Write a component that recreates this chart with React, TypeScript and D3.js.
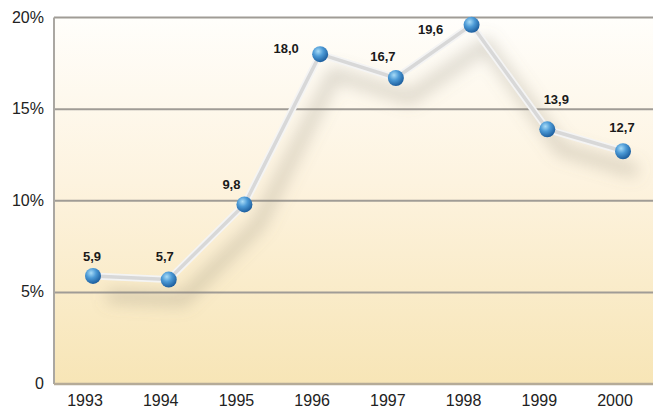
import { useRef, useEffect } from "react";
import * as d3 from "d3";

const years = ["1993", "1994", "1995", "1996", "1997", "1998", "1999", "2000"];
const rates = [5.9, 5.7, 9.8, 18.0, 16.7, 19.6, 13.9, 12.7];
const yTicks = [0, 5, 10, 15, 20];
// label offset per point (dx, dy) relative to the dot
const labelOffsets: [number, number][] = [
  [-1, -15],
  [-4, -19],
  [-13, -15],
  [-34, -1],
  [-13, -17],
  [-41, 9],
  [9, -25],
  [-1, -19],
];

const W = 653;
const H = 408;
const left = 54;
const top = 17.5;
const bottom = 384;

const App = () => {
  const ref = useRef<SVGSVGElement | null>(null);

  useEffect(() => {
    const svg = d3.select(ref.current);
    svg.selectAll("*").remove();

    const x = d3
      .scalePoint<string>()
      .domain(years)
      .range([93, 623]);
    const y = d3.scaleLinear().domain([0, 20]).range([bottom, top]);

    const defs = svg.append("defs");
    const bg = defs
      .append("linearGradient")
      .attr("id", "bg")
      .attr("x1", 0)
      .attr("y1", 0)
      .attr("x2", 0)
      .attr("y2", 1);
    bg.append("stop").attr("offset", "0%").attr("stop-color", "#fffefb");
    bg.append("stop").attr("offset", "45%").attr("stop-color", "#fdf3df");
    bg.append("stop").attr("offset", "100%").attr("stop-color", "#f7e5b6");

    const ball = defs
      .append("radialGradient")
      .attr("id", "ball")
      .attr("cx", "38%")
      .attr("cy", "32%")
      .attr("r", "70%");
    ball.append("stop").attr("offset", "0%").attr("stop-color", "#a9dcf7");
    ball.append("stop").attr("offset", "45%").attr("stop-color", "#4c9ad6");
    ball.append("stop").attr("offset", "100%").attr("stop-color", "#1b5c9c");

    defs
      .append("filter")
      .attr("id", "blur")
      .attr("x", "-20%")
      .attr("y", "-20%")
      .attr("width", "140%")
      .attr("height", "140%")
      .append("feGaussianBlur")
      .attr("stdDeviation", 8);

    svg
      .append("rect")
      .attr("x", left)
      .attr("y", top)
      .attr("width", W - left)
      .attr("height", bottom - top)
      .attr("fill", "url(#bg)");

    // gridlines
    svg
      .selectAll("line.grid")
      .data(yTicks.filter((t) => t > 0))
      .enter()
      .append("line")
      .attr("class", "grid")
      .attr("x1", left)
      .attr("x2", W)
      .attr("y1", (d) => y(d))
      .attr("y2", (d) => y(d))
      .attr("stroke", "#a09c96")
      .attr("stroke-width", 2);

    // axes lines
    svg
      .append("line")
      .attr("x1", left)
      .attr("x2", left)
      .attr("y1", top)
      .attr("y2", bottom)
      .attr("stroke", "#aaa7a2")
      .attr("stroke-width", 2);
    svg
      .append("line")
      .attr("x1", left)
      .attr("x2", W)
      .attr("y1", bottom)
      .attr("y2", bottom)
      .attr("stroke", "#b5ab98")
      .attr("stroke-width", 2.5);

    // y labels
    svg
      .selectAll("text.ytick")
      .data(yTicks)
      .enter()
      .append("text")
      .attr("class", "ytick")
      .attr("x", 44)
      .attr("y", (d) => y(d) + 5)
      .attr("text-anchor", "end")
      .attr("font-family", "Liberation Sans, Arial, sans-serif")
      .attr("font-size", 16)
      .attr("fill", "#222")
      .text((d) => (d === 0 ? "0" : d + "%"));

    // x labels
    svg
      .selectAll("text.xtick")
      .data(years)
      .enter()
      .append("text")
      .attr("class", "xtick")
      .attr("x", (d) => (x(d) as number) - 8)
      .attr("y", 406)
      .attr("text-anchor", "middle")
      .attr("font-family", "Liberation Sans, Arial, sans-serif")
      .attr("font-size", 16)
      .attr("fill", "#222")
      .text((d) => d);

    const data = years.map((yr, i) => ({ yr, v: rates[i] }));
    const line = d3
      .line<{ yr: string; v: number }>()
      .x((d) => x(d.yr) as number)
      .y((d) => y(d.v));

    // shadow
    svg
      .append("path")
      .attr("d", line(data))
      .attr("transform", "translate(14,20)")
      .attr("fill", "none")
      .attr("stroke", "#8a8170")
      .attr("stroke-opacity", 0.32)
      .attr("stroke-width", 12)
      .attr("filter", "url(#blur)");

    svg
      .append("path")
      .attr("d", line(data))
      .attr("fill", "none")
      .attr("stroke", "#f4f4f4")
      .attr("stroke-width", 7)
      .attr("stroke-linejoin", "round");
    svg
      .append("path")
      .attr("d", line(data))
      .attr("fill", "none")
      .attr("stroke", "#d8d8d8")
      .attr("stroke-width", 3.5)
      .attr("stroke-linejoin", "round");

    svg
      .selectAll("circle.dot")
      .data(data)
      .enter()
      .append("circle")
      .attr("class", "dot")
      .attr("cx", (d) => x(d.yr) as number)
      .attr("cy", (d) => y(d.v))
      .attr("r", 8)
      .attr("fill", "url(#ball)");

    svg
      .selectAll("text.val")
      .data(data)
      .enter()
      .append("text")
      .attr("class", "val")
      .attr("x", (d, i) => (x(d.yr) as number) + labelOffsets[i][0])
      .attr("y", (d, i) => y(d.v) + labelOffsets[i][1])
      .attr("text-anchor", "middle")
      .attr("font-family", "Liberation Sans, Arial, sans-serif")
      .attr("font-size", 13)
      .attr("font-weight", "bold")
      .attr("fill", "#1a1a1a")
      .text((d) => d.v.toFixed(1).replace(".", ","));
  }, []);

  return (
    <svg
      ref={ref}
      width={W}
      height={H}
      style={{ position: "absolute", left: 0, top: 0, background: "#fff" }}
    />
  );
};

export default App;
